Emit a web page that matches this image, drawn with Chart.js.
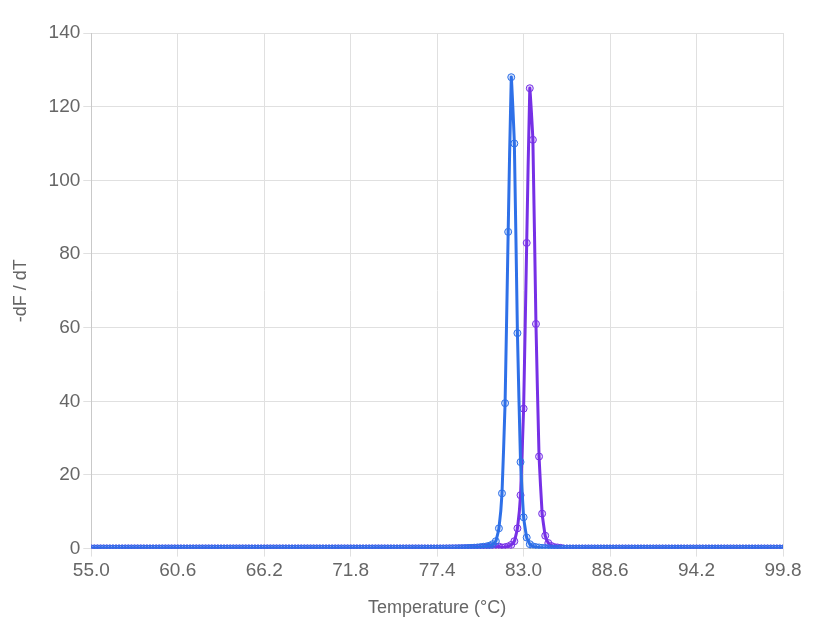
<!DOCTYPE html>
<html><head><meta charset="utf-8">
<script src="https://cdn.jsdelivr.net/npm/chart.js@4/dist/chart.umd.min.js"></script>
<style>html,body{margin:0;padding:0;background:#fff}#wrap{width:813px;height:633px}</style>
</head><body><div id="wrap"><canvas id="c"></canvas></div>
<script>
const tickLabels = [55.0, 60.6, 66.2, 71.8, 77.4, 83.0, 88.6, 94.2, 99.8];
const temperatures = [];
for (let i = 0; i <= 224; i++) temperatures.push(+(55 + i * 0.2).toFixed(1));
const peakA = {129:0.8,130:1.2,131:2,132:5.5,133:15,134:39.5,135:86,136:128,137:110,138:58.5,139:23.5,140:8.5,141:3,142:1.2,143:0.6,144:0.4,145:0.3,146:0.2,147:0.15,148:0.1};
const peakB = {133:0.3,134:0.4,135:0.6,136:1,137:2,138:5.5,139:14.5,140:38,141:83,142:125,143:111,144:61,145:25,146:9.5,147:3.5,148:1.5,149:0.7,150:0.4,151:0.3,152:0.2};
const tailA = [0.02,0.03,0.04,0.05,0.06,0.08,0.1,0.12,0.15,0.2,0.25,0.3,0.4,0.5,0.6];
const tailB = [0.02,0.03,0.04,0.05,0.06,0.07,0.08,0.1,0.12,0.14,0.17,0.2,0.25,0.3,0.35,0.4,0.45,0.5,0.55];
function makePts(peak, tail) {
  const keys = Object.keys(peak).map(Number);
  const first = Math.min(...keys), last = Math.max(...keys);
  return temperatures.map((t, i) => {
    let y = 0.02;
    if (peak[i] !== undefined) y = peak[i];
    else if (i < first && i >= first - tail.length) y = tail[i - (first - tail.length)];
    else if (i > last) y = 0.01;
    return {x: t, y: y};
  });
}
const ptsA = makePts(peakA, tailA);
const ptsB = makePts(peakB, tailB);
const blue = 'rgb(46,112,232)', purple = 'rgb(118,48,230)';
const F = { size: 19, family: 'Arial, Liberation Sans' };
new Chart(document.getElementById('c'), {
  type: 'line',
  data: { datasets: [
    { data: ptsA, borderColor: blue, backgroundColor: 'rgba(46,112,232,0.2)', borderWidth: 3, pointRadius: 3.5, pointBorderWidth: 1, tension: 0.1 },
    { data: ptsB, borderColor: purple, backgroundColor: 'rgba(118,48,230,0.2)', borderWidth: 3, pointRadius: 3.5, pointBorderWidth: 1, tension: 0.1 }
  ]},
  options: {
    responsive: true, maintainAspectRatio: false, animation: false,
    layout: { padding: { left: 6, right: 30, top: 33, bottom: 10 } },
    plugins: { legend: { display: false }, tooltip: { enabled: false } },
    scales: {
      x: { type: 'linear', min: 55, max: 99.8,
        afterBuildTicks: s => { s.ticks = tickLabels.map(v => ({value: v})); },
        ticks: { color: '#666', font: F, maxRotation: 0, callback: v => v.toFixed(1) },
        grid: { color: '#e0e0e0' },
        title: { display: true, text: 'Temperature (°C)', color: '#666', font: { size: 18, family: 'Arial, Liberation Sans' }, padding: { top: 12 } } },
      y: { min: 0, max: 140,
        ticks: { stepSize: 20, color: '#666', font: F },
        grid: { color: '#e0e0e0' },
        title: { display: true, text: '-dF / dT', color: '#666', font: { size: 18, family: 'Arial, Liberation Sans' }, padding: { bottom: 14 } } }
    }
  }
});
</script></body></html>
